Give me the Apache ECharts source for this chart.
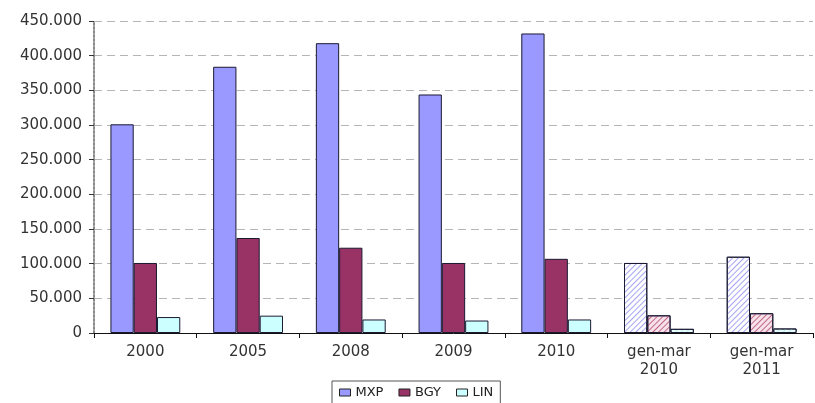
<!DOCTYPE html>
<html>
<head>
<meta charset="utf-8">
<script src="https://cdn.jsdelivr.net/npm/echarts@6/dist/echarts.min.js"></script>
<style>
  html, body { margin: 0; padding: 0; background: #fff; }
  #chart { width: 815px; height: 403px; }
</style>
</head>
<body>
<div id="chart"></div>
<script>
// Passenger traffic by airport (MXP, BGY, LIN)
const categories = ['2000', '2005', '2008', '2009', '2010', 'gen-mar\n2010', 'gen-mar\n2011'];
const mxp = [301000, 384000, 418000, 344000, 432000, 101000, 110000];
const bgy = [101000, 137000, 123000, 101000, 107000, 25500, 28500];
const lin = [23000, 25000, 19500, 18000, 19500, 6000, 6500];
const yTicks = [0, 50000, 100000, 150000, 200000, 250000, 300000, 350000, 400000, 450000];
// partial-year columns are drawn hatched
const hatchedFrom = 5;

const series = [
  { name: 'MXP', values: mxp, color: '#9999FF', hatchBg: '#ffffff', hatchLine: '#a4a4f2' },
  { name: 'BGY', values: bgy, color: '#993366', hatchBg: '#f8e2ea', hatchLine: '#c0678a' },
  { name: 'LIN', values: lin, color: '#CCFFFF', hatchBg: '#ecffff', hatchLine: '#bdeeee' }
];

const fmt = v => v === 0 ? '0' : String(v).replace(/\B(?=(\d{3})+(?!\d))/g, '.');
const FONT = 'DejaVu Sans, Arial, sans-serif';

const chart = echarts.init(document.getElementById('chart'));
chart.setOption({
  animation: false,
  backgroundColor: '#ffffff',
  grid: { left: 94, right: 2, top: 21, bottom: 70 },
  legend: {
    top: 381,
    left: 332,
    icon: 'rect',
    itemWidth: 11,
    itemHeight: 7,
    itemGap: 15,
    borderColor: '#555',
    borderWidth: 1,
    padding: [5, 7, 8, 7],
    textStyle: { fontFamily: FONT, fontSize: 13, color: '#222' },
    data: series.map(s => ({ name: s.name, itemStyle: { color: s.color, borderColor: '#222', borderWidth: 1 } }))
  },
  xAxis: {
    type: 'category',
    data: categories,
    axisLine: { lineStyle: { color: '#111', width: 1 } },
    axisTick: { show: true, length: 5, lineStyle: { color: '#111' } },
    axisLabel: {
      fontFamily: FONT,
      fontSize: 15,
      color: '#333',
      lineHeight: 18,
      margin: 10
    }
  },
  yAxis: {
    type: 'value',
    min: yTicks[0],
    max: yTicks[yTicks.length - 1],
    interval: yTicks[1] - yTicks[0],
    axisLine: { show: true, lineStyle: { color: '#888', width: 2, type: 'dotted' } },
    axisTick: { show: true, length: 5, lineStyle: { color: '#333' } },
    axisLabel: {
      fontFamily: FONT,
      fontSize: 15,
      color: '#333',
      margin: 12,
      formatter: fmt
    },
    splitLine: { show: true, lineStyle: { color: '#b5b5b5', type: [8, 5], width: 1 } }
  },
  series: series.map(s => ({
    name: s.name,
    type: 'bar',
    barGap: '0%',
    barCategoryGap: '32%',
    itemStyle: { color: s.color, borderColor: '#1a1a33', borderWidth: 1 },
    data: s.values.map((v, i) => i >= hatchedFrom
      ? {
          value: v,
          itemStyle: {
            color: s.hatchBg,
            borderColor: '#1a1a33',
            borderWidth: 1,
            decal: {
              symbol: 'rect',
              symbolSize: 1,
              color: s.hatchLine,
              dashArrayX: [1, 0],
              dashArrayY: [1, 3],
              rotation: -Math.PI / 4
            }
          }
        }
      : v)
  }))
});
</script>
</body>
</html>
